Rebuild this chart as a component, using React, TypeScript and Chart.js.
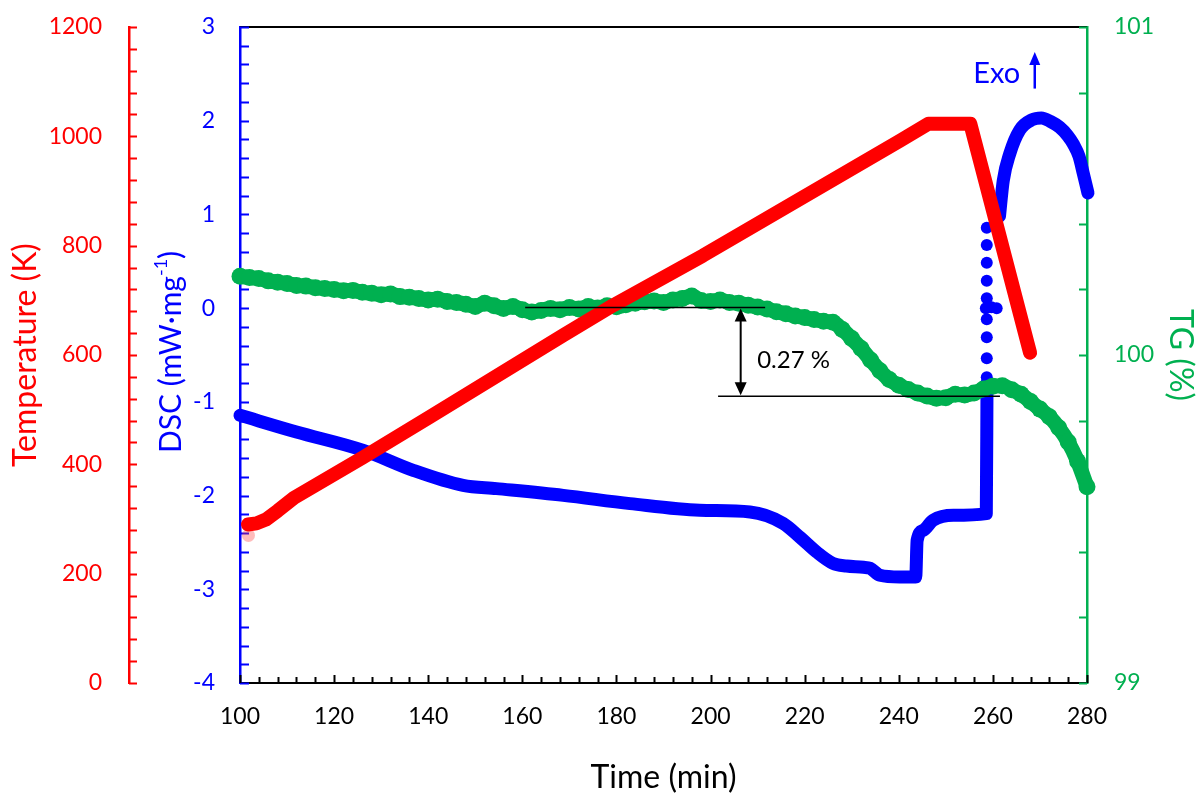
import React, { useEffect, useRef } from 'react';
import { Chart, registerables } from 'chart.js';

Chart.register(...registerables);

const FONT = 'Lato, "Open Sans", "DejaVu Sans", sans-serif';
const RED = '#FF0000';
const PALE_RED = 'rgba(255, 60, 60, 0.35)';
const BLUE = '#0000FF';
const GREEN = '#00B050';

// ---- Temperature (K) ----
const tempTime = [101.7, 103.5, 105.5, 108, 111.5, 126.2, 140.4, 168.7, 179.3, 198.4, 240.25, 246.3, 255.2, 267.9];
const tempValues = [290, 292, 299, 315, 339, 413, 487, 636, 691, 782, 992, 1023, 1023, 604];
const tempOutlierTime = [101.8];
const tempOutlierValues = [270];

// ---- DSC (mW/mg) ----
const dscTime = [100, 112, 126.2, 136.8, 147.4, 154.5, 168.7, 182.9, 197.7, 208.4, 215.4, 219, 222.6, 226, 228.9, 232.5, 233.9, 236, 240.2, 243.6, 243.9, 245.2, 247.3, 251.6, 258.6, 258.75];
const dscValues = [-1.144, -1.322, -1.518, -1.731, -1.892, -1.926, -1.998, -2.086, -2.157, -2.175, -2.296, -2.445, -2.605, -2.723, -2.752, -2.765, -2.776, -2.851, -2.869, -2.869, -2.478, -2.371, -2.264, -2.211, -2.193, -0.8];
const dscDotTime = [258.7, 258.7, 258.7, 258.7, 258.7, 258.5, 259.7, 260.8, 258.7, 258.7, 258.7, 258.7];
const dscDotValues = [0.858, 0.674, 0.485, 0.293, 0.105, -0.002, 0.01, -0.002, -0.119, -0.311, -0.535, -0.738];
const dscPeakTime = [261.4, 262.2, 263.6, 265.7, 268.3, 270.3, 272.3, 274.2, 275.9, 277.1, 278.3, 279.2, 280.2];
const dscPeakValues = [0.98, 1.36, 1.65, 1.9, 2.01, 2.03, 1.99, 1.93, 1.84, 1.75, 1.62, 1.44, 1.23];

// ---- TG (%) ----
const tgTime = [100, 102, 104, 106, 108, 110, 112, 114, 116, 118, 120, 122, 124, 126, 128, 130, 132, 134, 136, 138, 140, 142, 144, 146, 148, 150, 152, 154, 156, 158, 160, 162, 164, 166, 168, 170, 172, 174, 176, 178, 180, 182, 184, 186, 188, 190, 192, 194, 196, 198, 200, 202, 204, 206, 208, 210, 212, 214, 216, 218, 220, 222, 224, 226, 228, 230, 232, 234, 236, 238, 240, 242, 244, 246, 248, 250, 252, 254, 256, 258, 260, 262, 264, 266, 268, 270, 272, 274, 276, 278, 280];
const tgValues = [100.24, 100.236, 100.233, 100.226, 100.222, 100.218, 100.212, 100.21, 100.205, 100.203, 100.2, 100.196, 100.197, 100.191, 100.188, 100.184, 100.186, 100.178, 100.176, 100.172, 100.168, 100.17, 100.163, 100.16, 100.155, 100.148, 100.158, 100.15, 100.142, 100.148, 100.138, 100.131, 100.136, 100.142, 100.138, 100.145, 100.14, 100.148, 100.143, 100.15, 100.147, 100.153, 100.158, 100.162, 100.165, 100.16, 100.168, 100.172, 100.18, 100.166, 100.163, 100.168, 100.16, 100.158, 100.152, 100.146, 100.14, 100.132, 100.126, 100.119, 100.114, 100.108, 100.103, 100.1, 100.078, 100.05, 100.02, 99.985, 99.952, 99.925, 99.908, 99.895, 99.884, 99.875, 99.868, 99.87, 99.88, 99.878, 99.884, 99.896, 99.905, 99.906, 99.894, 99.88, 99.858, 99.835, 99.812, 99.778, 99.735, 99.676, 99.598];

// ---- Axes ----
const timeRange = [100, 280];
const tempRange = [0, 1200];
const dscRange = [-4, 3];
const tgRange = [99, 101];
const timeStep = 20;
const tempStep = 200;
const dscStep = 1;
const tgStep = 1;
const timeMinorStep = 4;
const tempMinorStep = 40;
const dscMinorStep = 0.2;
const tgMinorStep = 0.2;

// ---- Annotations ----
const stepUpperLevel = 100.145;
const stepLowerLevel = 99.874;
const stepUpperTime = [160.6, 211.6];
const stepLowerTime = [201.6, 261.5];
const stepArrowTime = 206.4;
const stepLabel = '0.27 %';
const stepLabelAt = [209.9, 99.984];
const exoLabel = 'Exo';
const exoLabelAt = [260.8, 2.506];
const exoArrowTime = 268.9;
const exoArrowRange = [2.343, 2.733];

const pts = (xs: number[], ys: number[]) => xs.map((x, i) => ({ x, y: ys[i] }));

function vTicks(ctx: CanvasRenderingContext2D, scale: any, axisX: number, dir: number, min: number, max: number, step: number, len: number, color: string) {
  const n = Math.round((max - min) / step);
  ctx.strokeStyle = color;
  ctx.lineWidth = 2;
  ctx.beginPath();
  for (let i = 0; i <= n; i++) {
    const p = Math.round(scale.getPixelForValue(min + i * step)) + 0.5;
    ctx.moveTo(axisX, p);
    ctx.lineTo(axisX + dir * len, p);
  }
  ctx.stroke();
}

function arrowHead(ctx: CanvasRenderingContext2D, x: number, y: number, dir: number, w: number, h: number) {
  ctx.beginPath();
  ctx.moveTo(x, y);
  ctx.lineTo(x - w / 2, y + dir * h);
  ctx.lineTo(x + w / 2, y + dir * h);
  ctx.closePath();
  ctx.fill();
}

const decor = {
  id: 'decor',
  beforeDatasetsDraw(chart: any) {
    const { ctx, chartArea: a, scales } = chart;
    const { x, y, yT, yG } = scales;
    ctx.save();
    ctx.strokeStyle = '#000';
    ctx.lineWidth = 2;
    ctx.beginPath();
    ctx.moveTo(a.left, a.top);
    ctx.lineTo(a.right, a.top);
    ctx.stroke();
    vTicks(ctx, yT, yT.right, 1, tempRange[0], tempRange[1], tempMinorStep, 8, RED);
    vTicks(ctx, y, a.left, 1, dscRange[0], dscRange[1], dscMinorStep, 9, BLUE);
    vTicks(ctx, yG, a.right, -1, tgRange[0], tgRange[1], tgMinorStep, 8, GREEN);
    const n = Math.round((timeRange[1] - timeRange[0]) / timeMinorStep);
    ctx.strokeStyle = '#000';
    ctx.lineWidth = 2;
    ctx.beginPath();
    for (let i = 0; i <= n; i++) {
      const v = timeRange[0] + i * timeMinorStep;
      const p = Math.round(x.getPixelForValue(v)) + 0.5;
      const len = (v - timeRange[0]) % timeStep === 0 ? 8 : 6;
      ctx.moveTo(p, a.bottom);
      ctx.lineTo(p, a.bottom - len);
    }
    ctx.stroke();
    // DSC title with superscript
    ctx.translate(171, (a.top + a.bottom) / 2 - 3);
    ctx.rotate(-Math.PI / 2);
    ctx.fillStyle = BLUE;
    ctx.textBaseline = 'middle';
    ctx.textAlign = 'left';
    const big = `30px ${FONT}`;
    const small = `18px ${FONT}`;
    const ta = 'DSC (mW\u00B7mg';
    const tb = '-1';
    const tc = ')';
    ctx.font = big;
    const wa = ctx.measureText(ta).width;
    const wc = ctx.measureText(tc).width;
    ctx.font = small;
    const wb = ctx.measureText(tb).width;
    let cx = -(wa + wb + wc) / 2;
    ctx.font = big;
    ctx.fillText(ta, cx, 0);
    cx += wa;
    ctx.font = small;
    ctx.fillText(tb, cx, -10);
    cx += wb;
    ctx.font = big;
    ctx.fillText(tc, cx, 0);
    ctx.restore();
  },
  afterDatasetsDraw(chart: any) {
    const { ctx, scales } = chart;
    const { x, y, yG } = scales;
    ctx.save();
    ctx.strokeStyle = '#000';
    ctx.lineWidth = 1.5;
    const yU = yG.getPixelForValue(stepUpperLevel);
    const yL = yG.getPixelForValue(stepLowerLevel);
    ctx.beginPath();
    ctx.moveTo(x.getPixelForValue(stepUpperTime[0]), yU);
    ctx.lineTo(x.getPixelForValue(stepUpperTime[1]), yU);
    ctx.moveTo(x.getPixelForValue(stepLowerTime[0]), yL);
    ctx.lineTo(x.getPixelForValue(stepLowerTime[1]), yL);
    ctx.stroke();
    const ax = x.getPixelForValue(stepArrowTime);
    ctx.lineWidth = 2;
    ctx.beginPath();
    ctx.moveTo(ax, yU + 10);
    ctx.lineTo(ax, yL - 10);
    ctx.stroke();
    ctx.fillStyle = '#000';
    arrowHead(ctx, ax, yU + 1, 1, 12, 13);
    arrowHead(ctx, ax, yL - 1, -1, 12, 13);
    ctx.font = `24px ${FONT}`;
    ctx.textAlign = 'left';
    ctx.textBaseline = 'middle';
    ctx.fillText(stepLabel, x.getPixelForValue(stepLabelAt[0]), yG.getPixelForValue(stepLabelAt[1]));
    ctx.fillStyle = BLUE;
    ctx.strokeStyle = BLUE;
    ctx.font = `29px ${FONT}`;
    ctx.textAlign = 'center';
    ctx.fillText(exoLabel, x.getPixelForValue(exoLabelAt[0]), y.getPixelForValue(exoLabelAt[1]));
    const ex = x.getPixelForValue(exoArrowTime);
    const eb = y.getPixelForValue(exoArrowRange[0]);
    const et = y.getPixelForValue(exoArrowRange[1]);
    ctx.lineWidth = 2.5;
    ctx.beginPath();
    ctx.moveTo(ex, eb);
    ctx.lineTo(ex, et + 8);
    ctx.stroke();
    arrowHead(ctx, ex, et, 1, 11, 13);
    ctx.restore();
  },
};

export default function App() {
  const ref = useRef<HTMLCanvasElement>(null);
  useEffect(() => {
    if (!ref.current) return;
    const tickFont = { family: FONT, size: 23 };
    const titleFont = { family: FONT, size: 32 };
    const plain = (v: any) => String(v);
    const fitV = (w: number) => (s: any) => {
      s.width = w;
      s.paddingTop = 0;
      s.paddingBottom = 0;
    };
    const chart = new Chart(ref.current, {
      type: 'line',
      data: {
        datasets: [
          {
            label: 'Temperature',
            data: pts(tempTime, tempValues),
            yAxisID: 'yT',
            borderColor: RED,
            backgroundColor: RED,
            borderWidth: 14,
            pointRadius: 0,
            borderCapStyle: 'round',
            borderJoinStyle: 'round',
            tension: 0,
            clip: false,
            order: 1,
          },
          {
            label: 'Temperature start',
            data: pts(tempOutlierTime, tempOutlierValues),
            yAxisID: 'yT',
            showLine: false,
            pointRadius: 6.5,
            pointBorderWidth: 0,
            pointBackgroundColor: PALE_RED,
            clip: false,
            order: 2,
          },
          {
            label: 'TG',
            data: pts(tgTime, tgValues),
            yAxisID: 'yG',
            borderColor: GREEN,
            backgroundColor: GREEN,
            borderWidth: 15,
            pointRadius: 8.5,
            pointBorderWidth: 0,
            pointBackgroundColor: GREEN,
            borderCapStyle: 'round',
            borderJoinStyle: 'round',
            cubicInterpolationMode: 'monotone',
            clip: false,
            order: 3,
          },
          {
            label: 'DSC',
            data: pts(dscTime, dscValues),
            yAxisID: 'y',
            borderColor: BLUE,
            backgroundColor: BLUE,
            borderWidth: 13,
            pointRadius: 0,
            borderCapStyle: 'round',
            borderJoinStyle: 'round',
            cubicInterpolationMode: 'monotone',
            clip: false,
            order: 4,
          },
          {
            label: 'DSC jump',
            data: pts(dscDotTime, dscDotValues),
            yAxisID: 'y',
            showLine: false,
            pointRadius: 6,
            pointBorderWidth: 0,
            pointBackgroundColor: BLUE,
            clip: false,
            order: 4,
          },
          {
            label: 'DSC peak',
            data: pts(dscPeakTime, dscPeakValues),
            yAxisID: 'y',
            borderColor: BLUE,
            backgroundColor: BLUE,
            borderWidth: 13,
            pointRadius: 0,
            borderCapStyle: 'round',
            borderJoinStyle: 'round',
            cubicInterpolationMode: 'monotone',
            clip: false,
            order: 4,
          },
        ],
      },
      options: {
        responsive: false,
        animation: false,
        devicePixelRatio: 1,
        events: [],
        layout: { padding: { top: 27, left: 0, right: 0, bottom: 0 } },
        plugins: { legend: { display: false }, tooltip: { enabled: false } },
        scales: {
          x: {
            type: 'linear',
            position: 'bottom',
            min: timeRange[0],
            max: timeRange[1],
            ticks: { stepSize: timeStep, color: '#000', font: tickFont, padding: 20, maxRotation: 0, autoSkip: false, callback: plain },
            grid: { display: false, drawTicks: false },
            border: { display: true, color: '#000', width: 2 },
            title: { display: true, text: 'Time (min)', color: '#000', font: titleFont, padding: { top: 0, bottom: -2 } },
            afterFit: (s: any) => { s.height = 112; },
          },
          yT: {
            type: 'linear',
            position: 'left',
            weight: 10,
            min: tempRange[0],
            max: tempRange[1],
            ticks: { stepSize: tempStep, color: RED, font: tickFont, padding: 27, callback: plain },
            grid: { display: false, drawTicks: false },
            border: { display: true, color: RED, width: 2.5 },
            title: { display: true, text: 'Temperature (K)', color: RED, font: titleFont, padding: { top: 6, bottom: 0 } },
            afterFit: fitV(129),
          },
          y: {
            type: 'linear',
            position: 'left',
            weight: 0,
            min: dscRange[0],
            max: dscRange[1],
            ticks: { stepSize: dscStep, color: BLUE, font: tickFont, padding: 25, callback: plain },
            grid: { display: false, drawTicks: false },
            border: { display: true, color: BLUE, width: 2.5 },
            title: { display: false },
            afterFit: fitV(111),
          },
          yG: {
            type: 'linear',
            position: 'right',
            min: tgRange[0],
            max: tgRange[1],
            ticks: { stepSize: tgStep, color: GREEN, font: tickFont, padding: 27, callback: plain },
            grid: { display: false, drawTicks: false },
            border: { display: true, color: GREEN, width: 2.5 },
            title: { display: true, text: 'TG (%)', color: GREEN, font: titleFont, padding: { top: 0, bottom: 0 } },
            afterFit: fitV(113),
          },
        },
      },
      plugins: [decor],
    } as any);
    return () => chart.destroy();
  }, []);
  return (
    <div style={{ position: 'absolute', left: 0, top: 0, width: 1200, height: 795, background: '#fff' }}>
      <canvas ref={ref} width={1200} height={795} style={{ display: 'block', width: 1200, height: 795 }} />
    </div>
  );
}
